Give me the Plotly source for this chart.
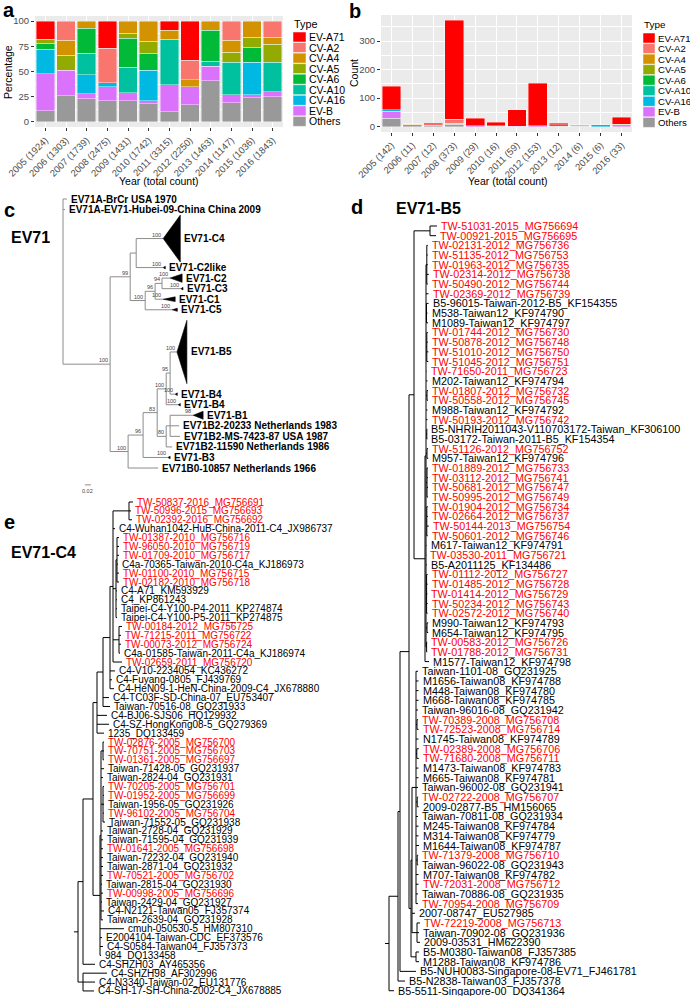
import plotly.graph_objects as go

W, H = 690, 996
FONT = "Liberation Sans, Arial, Helvetica, sans-serif"

# ---------------- data: panels a / b ----------------
TYPES = ["EV-A71", "CV-A2", "CV-A4", "CV-A5", "CV-A6", "CV-A10", "CV-A16", "EV-B", "Others"]
TYPE_COLORS = ["#FF0000", "#F8766D", "#D39200", "#93AA00", "#00BA38", "#00C19F", "#00B9E3", "#DB72FB", "#999999"]

YEARS_A = ["2005 (1924)", "2006 (1303)", "2007 (1739)", "2008 (2475)", "2009 (1431)", "2010 (1742)",
           "2011 (3315)", "2012 (2250)", "2013 (1463)", "2014 (1147)", "2015 (1036)", "2016 (1843)"]
YEARS_B = ["2005 (142)", "2006 (11)", "2007 (12)", "2008 (373)", "2009 (29)", "2010 (16)",
           "2011 (59)", "2012 (153)", "2013 (12)", "2014 (6)", "2015 (6)", "2016 (33)"]

A_EV_A71 = [18, 0, 0, 27, 0, 0, 9, 39, 0, 0, 0, 0]
A_CV_A2 = [0, 19, 0, 34, 0, 0, 0, 19, 0, 19, 0, 16]
A_CV_A4 = [0, 15, 7, 0, 12, 20, 9, 7, 9, 12, 16, 7]
A_CV_A5 = [4, 15, 0, 0, 5, 12, 0, 0, 0, 10, 10, 18]
A_CV_A6 = [6, 0, 25, 0, 29, 17, 0, 0, 31, 0, 15, 0]
A_CV_A10 = [0, 0, 21, 0, 25, 0, 45, 0, 5, 32, 0, 29]
A_CV_A16 = [24, 0, 19, 4, 0, 30, 0, 0, 0, 0, 32, 0]
A_EV_B = [37, 25, 5, 14, 8, 3, 27, 18, 14, 8, 3, 5]
A_OTHERS = [11, 26, 23, 21, 21, 18, 10, 17, 41, 19, 24, 25]

B_EV_A71 = [82, 0, 6, 347, 26, 12, 58, 150, 6, 0, 0, 24]
B_CV_A2 = [0, 2, 0, 14, 0, 0, 0, 0, 0, 2, 0, 0]
B_CV_A4 = [0, 3, 0, 0, 0, 0, 0, 0, 0, 0, 0, 0]
B_CV_A5 = [0, 0, 0, 0, 0, 0, 0, 0, 0, 0, 0, 3]
B_CV_A6 = [0, 0, 1, 0, 0, 0, 0, 0, 5, 0, 0, 2]
B_CV_A10 = [0, 0, 0, 0, 0, 0, 0, 0, 0, 0, 0, 0]
B_CV_A16 = [5, 0, 0, 0, 0, 0, 0, 0, 0, 0, 6, 0]
B_EV_B = [25, 0, 0, 3, 3, 3, 1, 3, 0, 2, 0, 4]
B_OTHERS = [30, 6, 5, 9, 0, 1, 0, 0, 1, 2, 0, 0]

A_SERIES = [A_EV_A71, A_CV_A2, A_CV_A4, A_CV_A5, A_CV_A6, A_CV_A10, A_CV_A16, A_EV_B, A_OTHERS]
B_SERIES = [B_EV_A71, B_CV_A2, B_CV_A4, B_CV_A5, B_CV_A6, B_CV_A10, B_CV_A16, B_EV_B, B_OTHERS]

# ---------------- data: trees (Newick, branch lengths in subst./site) ----------------
TREE_C = (
    "('EV71A-BrCr USA 1970':0.013,'EV71A-EV71-Hubei-09-China China 2009':0.007,"
    "((('EV71-C4':0.09,'EV71-C2like':0.09):0.02,"
    "((('EV71-C2':0.027,'EV71-C3':0.063)94:0.023,'EV71-C1':0.027)96:0.033,'EV71-C5':0.09)100:0.05)99:0.067,"
    "((((('EV71-B5':0.023,'EV71-B4':0.017)95:0.013,'EV71-B4':0.04)100:0.03,"
    "(('EV71-B1':0.077,'EV71B2-20233 Netherlands 1983':0.03,'EV71B2-MS-7423-87 USA 1987':0.033):0.013,"
    "'EV71B2-11590 Netherlands 1986':0.02)80:0.03)83:0.047,'EV71-B3':0.083)96:0.05,"
    "'EV71B0-10857 Netherlands 1966':0.1)100:0.06)100:0.157);"
)
# collapsed clades: name -> (slots occupied, triangle height in slots, triangle depth, support)
COLLAPSED_C = {
    "EV71-C4": (4.5, 4.45, 0.057, 100),
    "EV71-C2like": (1, 0.25, 0.007, 100),
    "EV71-C2": (1, 0.8, 0.04, 100),
    "EV71-C3": (1, 0.25, 0.007, 100),
    "EV71-C1": (1, 0.45, 0.04, 100),
    "EV71-C5": (1, 0.3, 0.017, 100),
    "EV71-B5": (7, 6.0, 0.033, 100),
    "EV71-B4": (1, 0.25, 0.007, 100),
    "EV71-B1": (1, 0.75, 0.033, 98),
    "EV71-B3": (1, 0.25, 0.007, 100),
}

D_P2015 = "(TW-51031-2015_MG756694:0.007,TW-00921-2015_MG756695:0.006):0.016"
D_F1 = (
    "((TW-02131-2012_MG756736:0.001,TW-51135-2012_MG756753:0.001,TW-01963-2012_MG756735:0.001,"
    "TW-02314-2012_MG756738:0.002,TW-50490-2012_MG756744:0.001):0.0008,"
    "TW-02369-2012_MG756739:0.0025,"
    "(B5-96015-Taiwan-2012-B5_KF154355:0.002,M538-Taiwan12_KF974790:0.001,M1089-Taiwan12_KF974797:0.0015):0.0005,"
    "(TW-01744-2012_MG756730:0.001,TW-50878-2012_MG756748:0.001,TW-51010-2012_MG756750:0.0015,"
    "TW-51045-2012_MG756751:0.0015):0.0008,"
    "TW-71650-2011_MG756723:0.0005,M202-Taiwan12_KF974794:0.0015,"
    "(TW-01807-2012_MG756732:0.001,TW-50558-2012_MG756745:0.001):0.001,"
    "M988-Taiwan12_KF974792:0.0015,TW-50193-2012_MG756742:0.0015,"
    "(B5-NHRIH2011043-V110703172-Taiwan_KF306100:0.0005,B5-03172-Taiwan-2011-B5_KF154354:0.0005):0.0008,"
    "(TW-51126-2012_MG756752:0.001,M957-Taiwan12_KF974796:0.0012):0.001,"
    "(TW-01889-2012_MG756733:0.001,TW-03112-2012_MG756741:0.001,TW-50681-2012_MG756747:0.001,"
    "TW-50995-2012_MG756749:0.001):0.001,"
    "(TW-01904-2012_MG756734:0.001,TW-02664-2012_MG756737:0.001,TW-50144-2013_MG756754:0.002,"
    "TW-50601-2012_MG756746:0.001):0.0008,"
    "M617-Taiwan12_KF974791:0.0005,TW-03530-2011_MG756721:0.0003,B5-A2011125_KF134486:0.0008,"
    "(TW-01112-2012_MG756727:0.001,TW-01485-2012_MG756728:0.001,TW-01414-2012_MG756729:0.0008,"
    "TW-50234-2012_MG756743:0.001,TW-02572-2012_MG756740:0.001):0.0006,"
    "(M990-Taiwan12_KF974793:0.0012,M654-Taiwan12_KF974795:0.0012):0.001,"
    "(TW-00583-2012_MG756726:0.0006,TW-01788-2012_MG756731:0.0006):0.0006):0.001"
)
D_E2 = (
    "(Taiwan-1101-08_GQ231925:0.002,M1656-Taiwan08_KF974788:0.0025,M448-Taiwan08_KF974780:0.0025,"
    "M668-Taiwan08_KF974785:0.0025,Taiwan-96016-08_GQ231942:0.002,"
    "(TW-70389-2008_MG756708:0.001,TW-72523-2008_MG756714:0.0015):0.001,N1745-Taiwan08_KF974789:0.0025,"
    "(TW-02389-2008_MG756706:0.002,TW-71680-2008_MG756711:0.002):0.0008,M1473-Taiwan08_KF974783:0.0025,"
    "M665-Taiwan08_KF974781:0.0025,Taiwan-96002-08_GQ231941:0.002,"
    "(TW-02722-2008_MG756707:0.001,2009-02877-B5_HM156065:0.0015):0.0012,Taiwan-70811-08_GQ231934:0.002,"
    "M245-Taiwan08_KF974784:0.0025,M314-Taiwan08_KF974779:0.0025,M1644-Taiwan08_KF974787:0.003,"
    "(TW-71379-2008_MG756710:0.001,Taiwan-96022-08_GQ231943:0.001):0.0012,M707-Taiwan08_KF974782:0.0025,"
    "TW-72031-2008_MG756712:0.0025,Taiwan-70886-08_GQ231935:0.002,TW-70954-2008_MG756709:0.002):0.004"
)
D_E4 = "(TW-72219-2008_MG756713:0.003,Taiwan-70902-08_GQ231936:0.002,2009-03531_HM622390:0.003):0.005"
D_PM = "(B5-M0380-Taiwan08_FJ357385:0.003,M1288-Taiwan08_KF974786:0.003):0.005"
TREE_D = (
    "((((" + "(" + D_P2015 + ",(" + D_F1 + ",M1577-Taiwan12_KF974798:0.004):0.011):0.005,"
    "((" + D_E2 + ",2007-08747_EU527985:0.003," + D_E4 + "):0.001," + D_PM + "):0.002"
    "):0.009,B5-NUH0083-Singapore-08-EV71_FJ461781:0.016):0.002,"
    "B5-N2838-Taiwan03_FJ357378:0.007):0.009,B5-5511-Singapore-00_DQ341364:0.005):0.004;"
)

E_G1 = "(TW-50837-2016_MG756691:0.004,TW-50996-2015_MG756693:0.002,TW-02392-2016_MG756692:0.003):0.016"
E_G2 = (
    "((TW-01387-2010_MG756716:0.002,TW-96050-2010_MG756719:0.002,TW-01709-2010_MG756717:0.002,"
    "C4a-70365-Taiwan-2010-C4a_KJ186973:0.001,TW-01100-2010_MG756715:0.002,TW-02182-2010_MG756718:0.002):0.001,"
    "C4-A71_KM593929:0.001,C4_KP861243:0.001,Taipei-C4-Y100-P4-2011_KP274874:0.001,"
    "Taipei-C4-Y100-P5-2011_KP274875:0.001):0.003"
)
E_G3 = ("(TW-00184-2012_MG756725:0.003,TW-71215-2011_MG756722:0.002,TW-00073-2012_MG756724:0.002,"
        "C4a-01585-Taiwan-2011-C4a_KJ186974:0.001):0.006")
E_ZB1 = (
    "((TW-02876-2005_MG756700:0.001,TW-70751-2005_MG756703:0.001,TW-01361-2005_MG756697:0.001):0.002,"
    "Taiwan-71428-05_GQ231937:0.003,Taiwan-2824-04_GQ231931:0.002,"
    "(TW-70205-2005_MG756701:0.001,TW-01952-2005_MG756699:0.001,Taiwan-1956-05_GQ231926:0.001,"
    "TW-96102-2005_MG756704:0.001,Taiwan-71552-05_GQ231938:0.002):0.002,"
    "Taiwan-2728-04_GQ231929:0.002,Taiwan-71595-04_GQ231939:0.002,TW-01641-2005_MG756698:0.002,"
    "Taiwan-72232-04_GQ231940:0.002,Taiwan-2871-04_GQ231932:0.002,TW-70521-2005_MG756702:0.002,"
    "Taiwan-2815-04_GQ231930:0.001,TW-00998-2005_MG756696:0.002,Taiwan-2429-04_GQ231927:0.001,"
    "C4-N2121-Taiwan05_FJ357374:0.003,Taiwan-2639-04_GQ231928:0.002):0.001"
)
TREE_E = (
    "(((((((" + E_G1 +
    ",C4-Wuhan1042-HuB-China-2011-C4_JX986737:0.002," + E_G2 + "," + E_G3 +
    ",TW-02659-2011_MG756720:0.009):0.003,"
    "C4-V10-2234054_KC436272:0.005,C4-Fuyang-0805_FJ439769:0.002,C4-HeN09-1-HeN-China-2009-C4_JX678880:0.004):0.007,"
    "C4-TC03F-SD-China-07_EU753407:0.006,Taiwan-70516-08_GQ231933:0.007):0.006,"
    "C4-BJ06-SJS06_HQ129932:0.010,C4-SZ-HongKong08-5_GQ279369:0.012,1235_DQ133459:0.007):0.004,"
    "(" + E_ZB1 + ",cmuh-050530-5_HM807310:0.024,E2004104-Taiwan-CDC_EF373576:0.002,"
    "C4-S0584-Taiwan04_FJ357373:0.003,984_DQ133458:0.001):0.007):0.010,"
    "C4-SHZH03_AY465356:0.012):0.005,"
    "(C4-SHZH98_AF302996:0.024,C4-N3340-Taiwan-02_EU131776:0.012,"
    "C4-SH-17-SH-China-2002-C4_JX678885:0.011):0.005):0.004;"
)


# ---------------- tree helpers ----------------
class Node:
    def __init__(self):
        self.children = []
        self.name = ""
        self.bl = 0.0
        self.support = None
        self.x = 0.0
        self.y = 0.0


def parse_newick(s):
    s = s.strip().rstrip(";")
    pos = [0]

    def node():
        n = Node()
        if s[pos[0]] == "(":
            pos[0] += 1
            n.children.append(node())
            while s[pos[0]] == ",":
                pos[0] += 1
                n.children.append(node())
            pos[0] += 1  # ')'
        i = pos[0]
        if i < len(s) and s[i] == "'":
            j = s.index("'", i + 1)
            n.name = s[i + 1:j]
            i = j + 1
        else:
            j = i
            while j < len(s) and s[j] not in ",():":
                j += 1
            n.name = s[i:j].strip()
            i = j
        if i < len(s) and s[i] == ":":
            j = i + 1
            while j < len(s) and s[j] not in ",()":
                j += 1
            n.bl = float(s[i + 1:j])
            i = j
        pos[0] = i
        if n.children and n.name:
            n.support = n.name
            n.name = ""
        return n

    return node()


def layout_tree(root, collapsed):
    cursor = [0.0]

    def rec(n, px):
        n.x = px + n.bl
        if n.children:
            for c in n.children:
                rec(c, n.x)
            n.y = (n.children[0].y + n.children[-1].y) / 2
        else:
            span = collapsed[n.name][0] if n.name in collapsed else 1
            n.y = cursor[0] + (span - 1) / 2
            cursor[0] += span

    rec(root, 0.0)


fig = go.Figure()
annotations = []
shapes = []


def PX(x):
    return x / W


def PY(y):
    return 1 - y / H


def text(x, y, t, size, color="black", xanchor="left", yanchor="middle", xref="paper", yref="paper",
         angle=0, xshift=0, yshift=0):
    annotations.append(dict(x=x, y=y, xref=xref, yref=yref, text=t, showarrow=False, xanchor=xanchor,
                            yanchor=yanchor, textangle=angle, xshift=xshift, yshift=yshift,
                            font=dict(family=FONT, size=size, color=color), borderpad=0))


def draw_tree(newick, collapsed, ax, x0px, sx, y0px, sy, line_color, font_size, bold, sup_size):
    root = parse_newick(newick)
    layout_tree(root, collapsed)
    xs, ys = [], []
    tips, internals = [], []

    def rec(n, px):
        xs.extend([px, n.x, None])
        ys.extend([n.y, n.y, None])
        if n.children:
            xs.extend([n.x, n.x, None])
            ys.extend([n.children[0].y, n.children[-1].y, None])
            internals.append(n)
            for c in n.children:
                rec(c, n.x)
        else:
            tips.append(n)

    rec(root, 0.0)
    xa, ya = "x" + str(ax), "y" + str(ax)
    fig.add_trace(go.Scatter(x=xs, y=ys, mode="lines", line=dict(color=line_color, width=1),
                             xaxis=xa, yaxis=ya, hoverinfo="skip", showlegend=False))
    for n in tips:
        end = n.x
        if n.name in collapsed:
            span, h, depth, sup = collapsed[n.name]
            end = n.x + depth
            fig.add_trace(go.Scatter(x=[n.x, end, end, n.x], y=[n.y, n.y - h / 2, n.y + h / 2, n.y],
                                     mode="lines", fill="toself", fillcolor="black",
                                     line=dict(color="black", width=0.6), xaxis=xa, yaxis=ya,
                                     hoverinfo="skip", showlegend=False))
            if sup is not None:
                text(n.x, n.y, str(sup), sup_size, "#444444", "right", "bottom", xa, ya, xshift=-1, yshift=0)
        color = "#FF0000" if n.name.startswith("TW-") else "black"
        label = "<b>" + n.name + "</b>" if bold else n.name
        text(end, n.y, label, font_size, color, "left", "middle", xa, ya, xshift=3)
    for n in internals:
        if n.support:
            text(n.x, n.y, n.support, sup_size, "#444444", "right", "bottom", xa, ya, xshift=-1, yshift=0)
    fig.update_layout(**{
        "xaxis" + str(ax): dict(domain=[0, 1], range=[-x0px / sx, (W - x0px) / sx], visible=False,
                                fixedrange=True, anchor=ya, automargin=False),
        "yaxis" + str(ax): dict(domain=[0, 1], range=[(H - y0px) / sy, -y0px / sy], visible=False,
                                fixedrange=True, anchor=xa, autorange=False, automargin=False),
    })
    return root, tips


# ---------------- panels a & b: stacked bars ----------------
for t, c, va, vb in reversed(list(zip(TYPES, TYPE_COLORS, A_SERIES, B_SERIES))):
    fig.add_trace(go.Bar(x=YEARS_A, y=[v if v else None for v in va], name=t,
                         marker=dict(color=c, line=dict(color="white", width=0.4)),
                         xaxis="x", yaxis="y", showlegend=False, hoverinfo="skip"))
    fig.add_trace(go.Bar(x=YEARS_B, y=[v if v else None for v in vb], name=t,
                         marker=dict(color=c, line=dict(color="white", width=0.4)),
                         xaxis="x2", yaxis="y2", showlegend=False, hoverinfo="skip"))

tickfont = dict(family=FONT, size=9.5, color="#4D4D4D")
common_x = dict(type="category", tickangle=-45, tickfont=tickfont, ticks="outside", ticklen=3,
                tickcolor="#333333", showgrid=True, gridcolor="white", gridwidth=1, zeroline=False,
                showline=False, fixedrange=True, automargin=False)
common_y = dict(tickfont=tickfont, ticks="outside", ticklen=3, tickcolor="#333333", showgrid=True,
                gridcolor="white", gridwidth=1, zeroline=False, showline=False, fixedrange=True,
                automargin=False)

fig.update_layout(
    xaxis=dict(domain=[PX(35), PX(283)], anchor="y", **common_x),
    yaxis=dict(domain=[PY(127), PY(16)], anchor="x", range=[-5, 105], tickvals=[0, 25, 50, 75, 100],
               minor=dict(dtick=12.5, tick0=0, showgrid=True, gridcolor="white", gridwidth=0.5, ticks=""),
               **common_y),
    xaxis2=dict(domain=[PX(381), PX(632)], anchor="y2", **common_x),
    yaxis2=dict(domain=[PY(132), PY(15)], anchor="x2", range=[-18.65, 391.65], tickvals=[0, 100, 200, 300],
                minor=dict(dtick=50, tick0=0, showgrid=True, gridcolor="white", gridwidth=0.5, ticks=""),
                **common_y),
)
for xr, yr in (("x", "y"), ("x2", "y2")):
    shapes.append(dict(type="rect", xref=xr + " domain", yref=yr + " domain", x0=0, x1=1, y0=0, y1=1,
                       fillcolor="#EBEBEB", line=dict(width=0), layer="below"))

# axis titles
text(PX(8), PY(72), "Percentage", 10.5, angle=-90, xanchor="center")
text(PX(159), PY(181), "Year (total count)", 10.5, xanchor="center")
text(PX(354), PY(73), "Count", 10.5, angle=-90, xanchor="center")
text(PX(508), PY(181), "Year (total count)", 10.5, xanchor="center")

# legends
for lx, ly0, key_w, fs in ((293, 24, 13, 10.5), (643, 25, 12, 9.6)):
    text(PX(lx), PY(ly0), "Type", fs + 0.3)
    for i, (t, c) in enumerate(zip(TYPES, TYPE_COLORS)):
        yc = ly0 + 13 + i * 10.55
        shapes.append(dict(type="rect", xref="paper", yref="paper", x0=PX(lx), x1=PX(lx + key_w),
                           y0=PY(yc + 5), y1=PY(yc - 5), fillcolor=c, line=dict(color="white", width=0.5)))
        text(PX(lx + key_w + 1.5), PY(yc), t, fs)

# panel letters
for lt, x, y in (("a", 2, 10), ("b", 348, 11), ("c", 3, 210), ("d", 350, 207), ("e", 3, 522)):
    text(PX(x), PY(y), "<b>" + lt + "</b>", 20)

# ---------------- panels c, d, e: trees ----------------
draw_tree(TREE_C, COLLAPSED_C, 3, 63, 300, 199, 10.55, "#8C8C8C", 10, True, 5.5)
draw_tree(TREE_D, {}, 4, 385, 1000, 226, 9.68, "black", 10.8, False, 5.5)
draw_tree(TREE_E, {}, 5, 74, 1000, 502, 8.89, "black", 10, False, 5.5)

text(PX(10), PY(238), "<b>EV71</b>", 16)
text(PX(395), PY(209), "<b>EV71-B5</b>", 16)
text(PX(10), PY(552), "<b>EV71-C4</b>", 16)

# scale bar for tree c
fig.add_trace(go.Scatter(x=[0.073, 0.093], y=[27.1, 27.1], mode="lines", line=dict(color="#8C8C8C", width=1),
                         xaxis="x3", yaxis="y3", hoverinfo="skip", showlegend=False))
text(0.083, 27.1, "0.02", 5.5, "#444444", "center", "top", "x3", "y3", yshift=-2)

fig.update_layout(
    template="none",
    width=W, height=H, margin=dict(l=0, r=0, t=0, b=0, pad=0), autosize=False,
    paper_bgcolor="white", plot_bgcolor="rgba(0,0,0,0)",
    barmode="stack", bargap=0.1, showlegend=False,
    annotations=annotations, shapes=shapes,
    font=dict(family=FONT),
)
fig.write_html("out.html", config={"displayModeBar": False},
               post_script="document.body.style.margin='0';document.body.style.padding='0';"
                           "document.body.style.overflow='hidden';")
